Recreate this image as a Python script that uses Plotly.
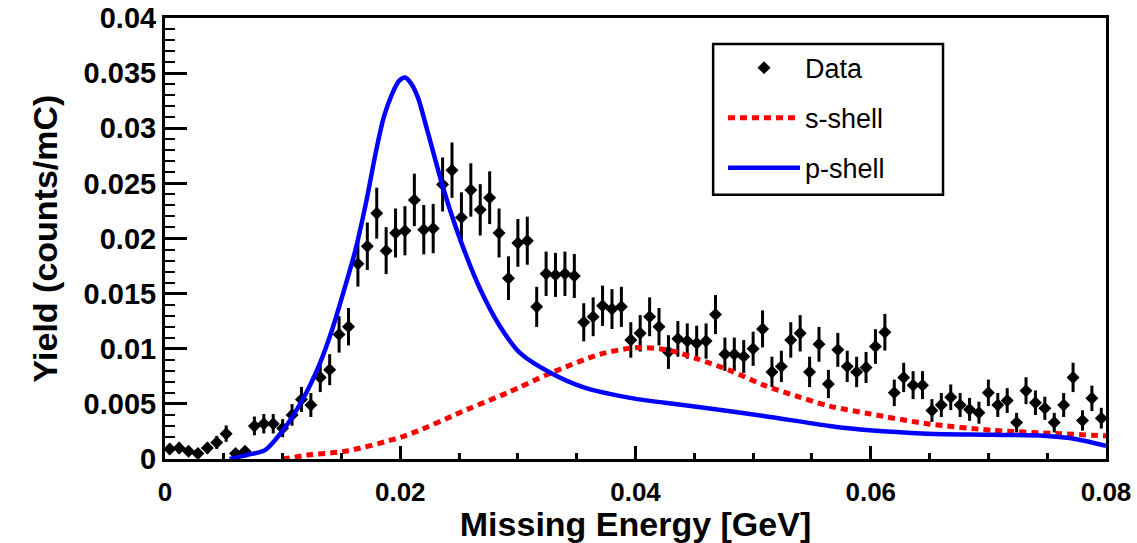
import plotly.graph_objects as go

# --- Data ---
n_bins = 100
bin_width = 0.0008
energy = [round(bin_width * (i + 0.5), 4) for i in range(n_bins)]

yield_data = [
    0.0009, 0.0010, 0.0007, 0.0005, 0.0010, 0.0015, 0.0023, 0.0005, 0.0007, 0.0030,
    0.0032, 0.0032, 0.0028, 0.0040, 0.0054, 0.0049, 0.0074, 0.0081, 0.0113, 0.0120,
    0.0177, 0.0193, 0.0223, 0.0189, 0.0205, 0.0207, 0.0235, 0.0208, 0.0209, 0.0249,
    0.0262, 0.0219, 0.0244, 0.0226, 0.0237, 0.0205, 0.0164, 0.0196, 0.0198, 0.0138,
    0.0168, 0.0167, 0.0168, 0.0166, 0.0124, 0.0129, 0.0139, 0.0136, 0.0138, 0.0108,
    0.0114, 0.0129, 0.0120, 0.0097, 0.0109, 0.0107, 0.0105, 0.0107, 0.0131, 0.0095,
    0.0095, 0.0093, 0.0100, 0.0118, 0.0079, 0.0084, 0.0108, 0.0114, 0.0079, 0.0104,
    0.0068, 0.0099, 0.0084, 0.0079, 0.0083, 0.0102, 0.0115, 0.0060, 0.0074, 0.0067,
    0.0067, 0.0044, 0.0049, 0.0056, 0.0049, 0.0045, 0.0042, 0.0060, 0.0049, 0.0053,
    0.0033, 0.0062, 0.0051, 0.0046, 0.0033, 0.0049, 0.0074, 0.0035, 0.0055, 0.0037,
]

yield_err = [
    0.00047, 0.00049, 0.00041, 0.00035, 0.00049, 0.00060, 0.00074, 0.00035, 0.00041, 0.00085,
    0.00088, 0.00088, 0.00082, 0.00098, 0.00114, 0.00109, 0.00133, 0.00140, 0.00165, 0.00170,
    0.00206, 0.00215, 0.00231, 0.00213, 0.00222, 0.00223, 0.00238, 0.00224, 0.00224, 0.00245,
    0.00251, 0.00229, 0.00242, 0.00233, 0.00239, 0.00222, 0.00198, 0.00217, 0.00218, 0.00182,
    0.00201, 0.00200, 0.00201, 0.00200, 0.00173, 0.00176, 0.00183, 0.00181, 0.00182, 0.00161,
    0.00165, 0.00176, 0.00170, 0.00153, 0.00162, 0.00160, 0.00159, 0.00160, 0.00177, 0.00151,
    0.00151, 0.00149, 0.00155, 0.00168, 0.00138, 0.00142, 0.00161, 0.00165, 0.00138, 0.00158,
    0.00128, 0.00154, 0.00142, 0.00138, 0.00141, 0.00157, 0.00166, 0.00120, 0.00133, 0.00127,
    0.00127, 0.00103, 0.00109, 0.00116, 0.00109, 0.00104, 0.00100, 0.00120, 0.00109, 0.00113,
    0.00089, 0.00122, 0.00111, 0.00105, 0.00089, 0.00109, 0.00133, 0.00092, 0.00115, 0.00094,
]

p_shell_x = [0.0055, 0.0071, 0.0085, 0.0101, 0.0117, 0.0131, 0.0142, 0.0153, 0.0162, 0.0171,
             0.0179, 0.0186, 0.0193, 0.0199, 0.0204, 0.0209, 0.0215, 0.0223, 0.0237, 0.0251,
             0.0268, 0.0285, 0.0302, 0.0328, 0.0356, 0.0398, 0.0425, 0.0455, 0.0509, 0.0565,
             0.0599, 0.0648, 0.0704, 0.0747, 0.0775, 0.0800]
p_shell_y = [0.0000, 0.0004, 0.0008, 0.0027, 0.0054, 0.0085, 0.0117, 0.0156, 0.0190, 0.0233,
             0.0277, 0.0310, 0.0331, 0.0343, 0.0346, 0.0341, 0.0328, 0.0298, 0.0244, 0.0199,
             0.0154, 0.0120, 0.0096, 0.0078, 0.0065, 0.0055, 0.0051, 0.0047, 0.0039, 0.0030,
             0.0026, 0.0023, 0.0022, 0.0021, 0.0018, 0.0012]

s_shell_x = [0.0100, 0.0125, 0.0153, 0.0204, 0.0257, 0.0291, 0.0328, 0.0370, 0.0400, 0.0427,
             0.0452, 0.0481, 0.0509, 0.0537, 0.0565, 0.0599, 0.0648, 0.0704, 0.0761, 0.0800]
s_shell_y = [0.0000, 0.0004, 0.0007, 0.0021, 0.0045, 0.0060, 0.0078, 0.0095, 0.0101, 0.0099,
             0.0091, 0.0080, 0.0067, 0.0057, 0.0048, 0.0041, 0.0032, 0.0026, 0.0023, 0.0021]

x_ticks = [0, 0.02, 0.04, 0.06, 0.08]
x_tick_labels = ["0", "0.02", "0.04", "0.06", "0.08"]
y_ticks = [0, 0.005, 0.01, 0.015, 0.02, 0.025, 0.03, 0.035, 0.04]
y_tick_labels = ["0", "0.005", "0.01", "0.015", "0.02", "0.025", "0.03", "0.035", "0.04"]

FONT = "Liberation Sans"

fig = go.Figure()

fig.add_trace(go.Scatter(
    x=energy, y=yield_data, mode="markers", name="Data", legendgroup="a",
    marker=dict(symbol="diamond", size=10, color="black"),
    error_y=dict(type="data", array=yield_err, visible=True, color="black",
                 thickness=3, width=0),
))
fig.add_trace(go.Scatter(
    x=s_shell_x, y=s_shell_y, mode="lines", name="s-shell", legendgroup="b",
    line=dict(color="#ff0000", width=5, dash="7px,5px", shape="spline", smoothing=0.8),
))
fig.add_trace(go.Scatter(
    x=p_shell_x, y=p_shell_y, mode="lines", name="p-shell", legendgroup="c",
    line=dict(color="#0000ff", width=4.5, shape="spline", smoothing=0.8),
))

# legend frame (decoration), in plot-area paper coordinates
fig.add_shape(type="rect", xref="paper", yref="paper",
              x0=0.5825, x1=0.8268, y0=0.599, y1=0.9409,
              line=dict(color="black", width=2.5), fillcolor="rgba(0,0,0,0)", layer="above")

fig.update_layout(
    width=1137, height=543,
    margin=dict(l=164.5, r=31, t=18, b=83.5),
    paper_bgcolor="white", plot_bgcolor="white",
    showlegend=True,
    legend=dict(
        x=0.593, y=0.942, xanchor="left", yanchor="top",
        borderwidth=0, bgcolor="rgba(255,255,255,0)",
        font=dict(family=FONT, size=27, color="black"),
        traceorder="grouped", tracegroupgap=12, itemwidth=72,
    ),
)

fig.update_xaxes(
    range=[0, 0.08], tickvals=x_ticks, ticktext=x_tick_labels,
    showline=True, linecolor="black", linewidth=3, mirror=True,
    ticks="inside", ticklen=13, tickwidth=3, tickcolor="black",
    minor=dict(ticks="inside", ticklen=6, tickwidth=3, tickcolor="black", dtick=0.005, showgrid=False),
    showgrid=False, zeroline=False, automargin=False,
    ticklabelstandoff=8, ticklabeloverflow="allow",
    tickfont=dict(family=FONT, size=26, color="black", weight="bold"),
    title=dict(text="Missing Energy [GeV]", standoff=18,
               font=dict(family=FONT, size=34, color="black", weight="bold")),
)
fig.update_yaxes(
    range=[0, 0.04], tickvals=y_ticks, ticktext=y_tick_labels,
    showline=True, linecolor="black", linewidth=3, mirror=True,
    ticks="inside", ticklen=22, tickwidth=3, tickcolor="black",
    minor=dict(ticks="inside", ticklen=10, tickwidth=2, tickcolor="black", dtick=0.001, showgrid=False),
    showgrid=False, zeroline=False, automargin=False,
    ticklabelstandoff=0, ticklabeloverflow="allow",
    tickfont=dict(family=FONT, size=29, color="black", weight="bold"),
    title=dict(text="Yield (counts/mC)", standoff=16,
               font=dict(family=FONT, size=34, color="black", weight="bold")),
)

# remove the default 8px page margin so the figure fills the window exactly
fig.write_html("out.html", config={"displayModeBar": False},
               post_script="document.body.style.margin='0';")
